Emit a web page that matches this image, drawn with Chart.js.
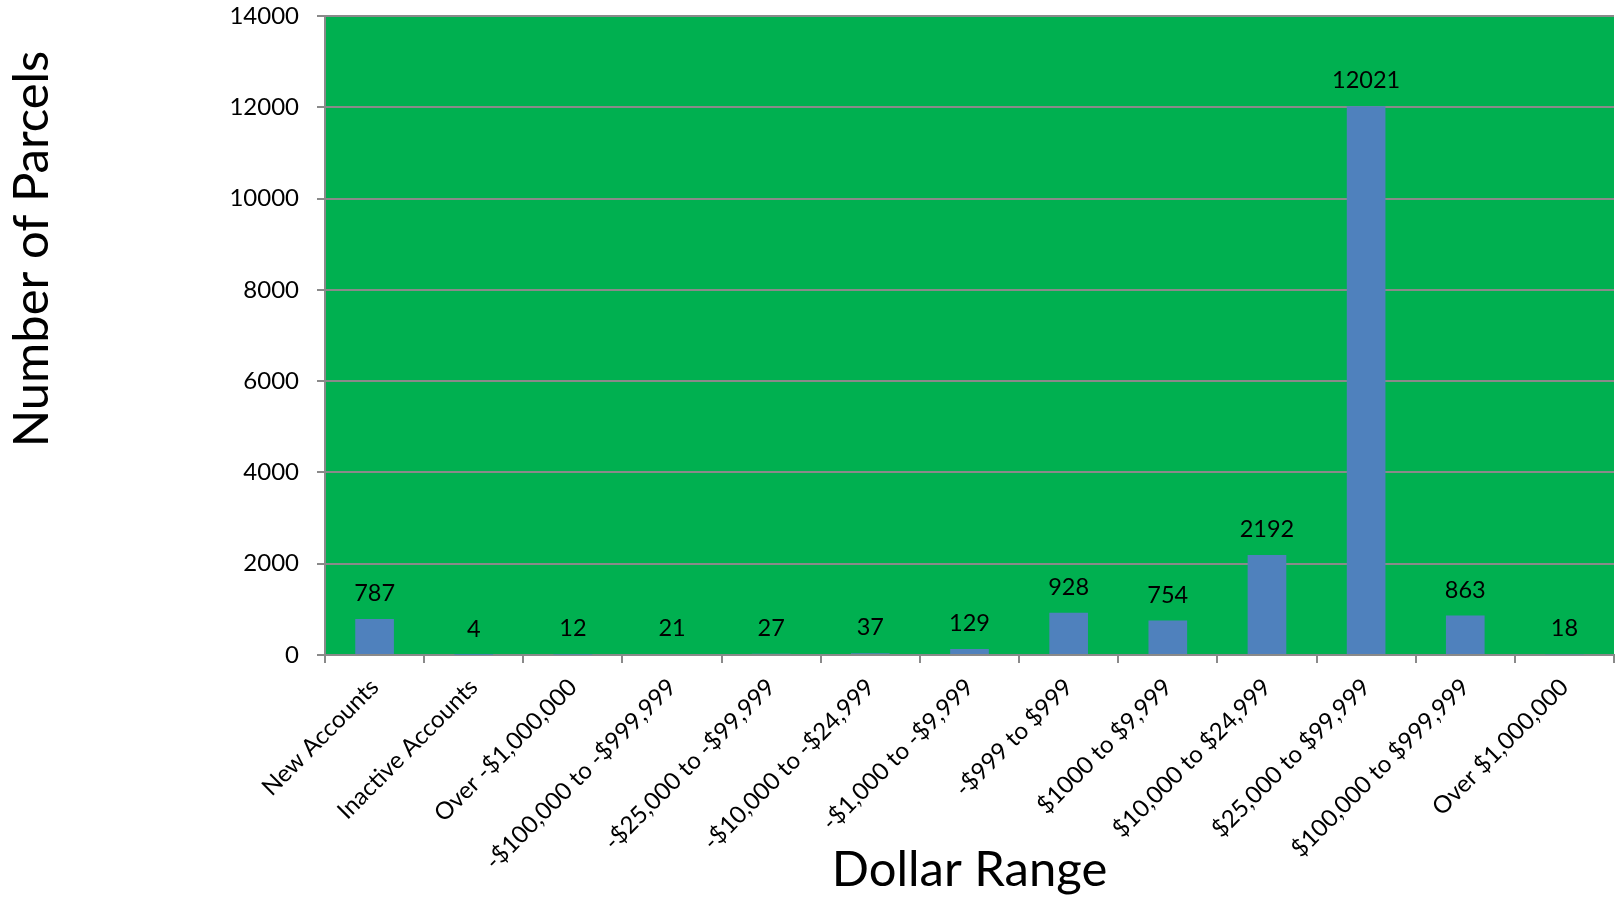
<!DOCTYPE html>
<html>
<head>
<meta charset="utf-8">
<script src="https://cdn.jsdelivr.net/npm/chart.js@4.4.1/dist/chart.umd.min.js"></script>
<style>
  html, body { margin: 0; padding: 0; background: #fff; }
  #wrap { width: 1617px; height: 897px; }
</style>
</head>
<body>
<div id="wrap"><canvas id="parcelChart"></canvas></div>
<script>
const categories = [
    'New Accounts', 'Inactive Accounts', 'Over -$1,000,000', '-$100,000 to -$999,999',
    '-$25,000 to -$99,999', '-$10,000 to -$24,999', '-$1,000 to -$9,999', '-$999 to $999',
    '$1000 to $9,999', '$10,000 to $24,999', '$25,000 to $99,999', '$100,000 to $999,999',
    'Over $1,000,000'
];
const parcelCounts = [787, 4, 12, 21, 27, 37, 129, 928, 754, 2192, 12021, 863, 18];
const yTicks = [0, 2000, 4000, 6000, 8000, 10000, 12000, 14000];

const FONT = 'Lato, "Open Sans", sans-serif';
const gridGray = '#8a8a8a';

// green plot background
const plotBackground = {
    id: 'plotBackground',
    beforeDraw(chart) {
        const { ctx, chartArea: a } = chart;
        ctx.save();
        ctx.fillStyle = '#00B050';
        ctx.fillRect(a.left, a.top, a.right - a.left, a.bottom - a.top);
        ctx.restore();
    }
};

// value printed above every bar
const valueLabels = {
    id: 'valueLabels',
    afterDatasetsDraw(chart) {
        const { ctx } = chart;
        const meta = chart.getDatasetMeta(0);
        ctx.save();
        ctx.font = '23.5px ' + FONT;
        ctx.fillStyle = '#000';
        ctx.textAlign = 'center';
        ctx.textBaseline = 'alphabetic';
        meta.data.forEach((bar, i) => {
            ctx.fillText(String(parcelCounts[i]), bar.x, bar.y - 18);
        });
        ctx.restore();
    }
};

// axis titles
const axisTitles = {
    id: 'axisTitles',
    afterDraw(chart) {
        const { ctx, chartArea: a } = chart;
        ctx.save();
        ctx.fillStyle = '#000';
        ctx.font = '49px ' + FONT;
        ctx.textAlign = 'center';
        ctx.textBaseline = 'middle';
        ctx.fillText('Dollar Range', (a.left + a.right) / 2, 870);
        ctx.translate(32, 249);
        ctx.rotate(-Math.PI / 2);
        ctx.fillText('Number of Parcels', 0, 0);
        ctx.restore();
    }
};

const ctx = document.getElementById('parcelChart').getContext('2d');
const parcelChart = new Chart(ctx, {
    type: 'bar',
    data: {
        labels: categories,
        datasets: [{
            label: 'Number of Parcels',
            data: parcelCounts,
            backgroundColor: '#4F81BD',
            borderWidth: 0,
            barPercentage: 0.39,
            categoryPercentage: 1.0
        }]
    },
    options: {
        responsive: true,
        maintainAspectRatio: false,
        animation: false,
        events: [],
        layout: {
            autoPadding: false,
            padding: { left: 0, right: 3, top: 16, bottom: 0 }
        },
        scales: {
            y: {
                min: 0,
                max: 14000,
                afterBuildTicks: (scale) => {
                    scale.ticks = yTicks.map(v => ({ value: v }));
                },
                afterFit: (scale) => {
                    scale.width = 325;
                    scale.paddingTop = 0;
                    scale.paddingBottom = 0;
                },
                ticks: {
                    color: '#000',
                    padding: 18,
                    font: { family: FONT, size: 24 },
                    callback: (v) => String(v)
                },
                grid: {
                    color: gridGray,
                    lineWidth: 2,
                    tickLength: 8,
                    drawTicks: true
                },
                border: { color: gridGray, width: 2 }
            },
            x: {
                afterFit: (scale) => {
                    scale.height = 242;
                    scale.paddingLeft = 0;
                    scale.paddingRight = 0;
                },
                ticks: {
                    color: '#000',
                    padding: 10,
                    minRotation: 45,
                    maxRotation: 45,
                    autoSkip: false,
                    font: { family: FONT, size: 24 }
                },
                grid: {
                    offset: true,
                    drawOnChartArea: false,
                    drawTicks: true,
                    tickLength: 8,
                    color: gridGray,
                    lineWidth: 2
                },
                border: { color: gridGray, width: 2 }
            }
        },
        plugins: {
            legend: { display: false },
            tooltip: { enabled: false }
        }
    },
    plugins: [plotBackground, valueLabels, axisTitles]
});
</script>
</body>
</html>
